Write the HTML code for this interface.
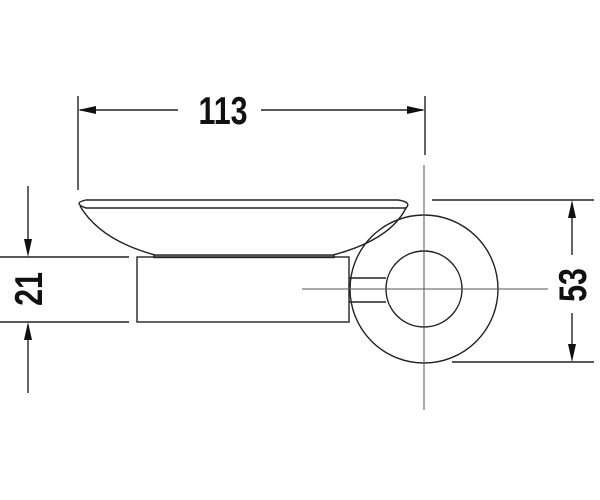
<!DOCTYPE html>
<html><head><style>html,body{margin:0;padding:0;background:#fff}svg{display:block}</style></head>
<body>
<svg width="600" height="500" viewBox="0 0 600 500" xmlns="http://www.w3.org/2000/svg">
<g stroke="#222" fill="none" stroke-width="1.4">
<line x1="78" y1="96" x2="78" y2="190"/>
<line x1="425" y1="96" x2="425" y2="155"/>
<line x1="80" y1="110" x2="178" y2="110"/>
<line x1="261" y1="110" x2="423" y2="110"/>
<path d="M86 200 L398 200 Q412 202 406 208 L86 208 Q72 203 86 200 Z"/>
<path d="M80 206 Q100 240 155 255"/>
<path d="M406 208 Q390 240 333 255"/>
<rect x="154" y="255" width="180" height="2.5" fill="#bbb"/>
<rect x="137" y="257" width="212" height="65"/>
<circle cx="424" cy="289" r="74"/>
<circle cx="424" cy="289" r="38"/>
<line x1="349" y1="278" x2="386" y2="278"/>
<line x1="349" y1="302" x2="386" y2="302"/>
<line x1="0" y1="257" x2="129" y2="257"/>
<line x1="0" y1="322" x2="129" y2="322"/>
<line x1="28" y1="186" x2="28" y2="245"/>
<line x1="28" y1="334" x2="28" y2="393"/>
<line x1="432" y1="200" x2="594" y2="200"/>
<line x1="452" y1="362" x2="594" y2="362"/>
<line x1="572" y1="212" x2="572" y2="255"/>
<line x1="572" y1="313" x2="572" y2="350"/>
</g>
<g stroke="#555" stroke-width="1" fill="none">
<line x1="302" y1="289" x2="548" y2="289"/>
<line x1="424" y1="165" x2="424" y2="410"/>
</g>
<g fill="#111">
<polygon points="78,110 96,106 96,114"/>
<polygon points="425,110 407,106 407,114"/>
<polygon points="28,257 24,239 32,239"/>
<polygon points="28,322 24,340 32,340"/>
<polygon points="572,200 568,218 576,218"/>
<polygon points="572,362 568,344 576,344"/>
</g>
<g font-family="Liberation Sans, sans-serif" font-weight="bold" font-size="39" fill="#111" text-anchor="middle">
<text x="0" y="0" transform="translate(223,124) scale(0.78,1)">113</text>
<text x="0" y="0" transform="translate(42,289) rotate(-90) scale(0.78,1)">21</text>
<text x="0" y="0" transform="translate(586,285) rotate(-90) scale(0.78,1)">53</text>
</g>
</svg>
</body></html>
